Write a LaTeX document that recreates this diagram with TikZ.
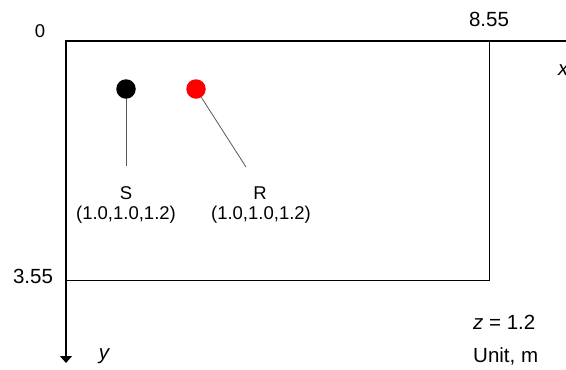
\documentclass[tikz,border=0pt]{standalone}
\usepackage{fontspec}
\setmainfont{Liberation Sans}
\usetikzlibrary{arrows.meta}
\begin{document}
\begin{tikzpicture}[x=1pt,y=-1pt,
  lbl/.style={inner sep=0pt, font=\fontsize{18.5}{22}\selectfont},
  num/.style={inner sep=0pt, font=\fontsize{20.5}{24}\selectfont},
  dot/.style={circle, inner sep=0pt, minimum size=19.5pt},
  lead/.style={draw=black!65, line width=0.8pt},
  axis/.style={line width=1.1pt, -{Triangle[width=12pt,length=7pt]}}]
\useasboundingbox (0,0) rectangle (566,370);
\coordinate (O) at (66,41);
\coordinate (TR) at (489,41);
\coordinate (BR) at (489,280);
\coordinate (BL) at (66,280);
\coordinate (xend) at (574,41);
\coordinate (yend) at (66,363);
\draw[line width=1pt] (TR) -- (BR) -- (BL);
\draw[axis] (TR) -- (xend);
\draw[axis] (BL) -- (yend);
\draw[line width=2pt, line join=miter] (BL) -- (O) -- (TR);
% labels of axes
\node[lbl] (zero) at (40,31) {0};
\node[num] (xmax) at (489,19) {8.55};
\node[num] (ymax) at (33,276) {3.55};
\node[num, font=\fontsize{20.5}{24}\selectfont\itshape, anchor=west] (xlab) at (558,70) {x};
\node[num, font=\fontsize{20.5}{24}\selectfont\itshape] (ylab) at (104,356) {y};
\node[num, anchor=west] (zval) at (473,322) {\itshape z\upshape{} = 1.2};
\node[num, anchor=west] (unit) at (473,356) {Unit, m};
% source and receiver
\node[dot, fill=black] (S) at (126,89) {};
\node[dot, fill=red] (R) at (196,89) {};
\coordinate (sEnd) at (126,166);
\coordinate (rEnd) at (246,167);
\draw[lead] (S) -- (sEnd);
\draw[lead] (R) -- (rEnd);
\node[lbl] (Slab) at (126,193) {S};
\node[lbl] (Spos) at (126,215) {(1.0,1.0,1.2)};
\node[lbl] (Rlab) at (260,193) {R};
\node[lbl] (Rpos) at (261,215) {(1.0,1.0,1.2)};
\end{tikzpicture}
\end{document}
